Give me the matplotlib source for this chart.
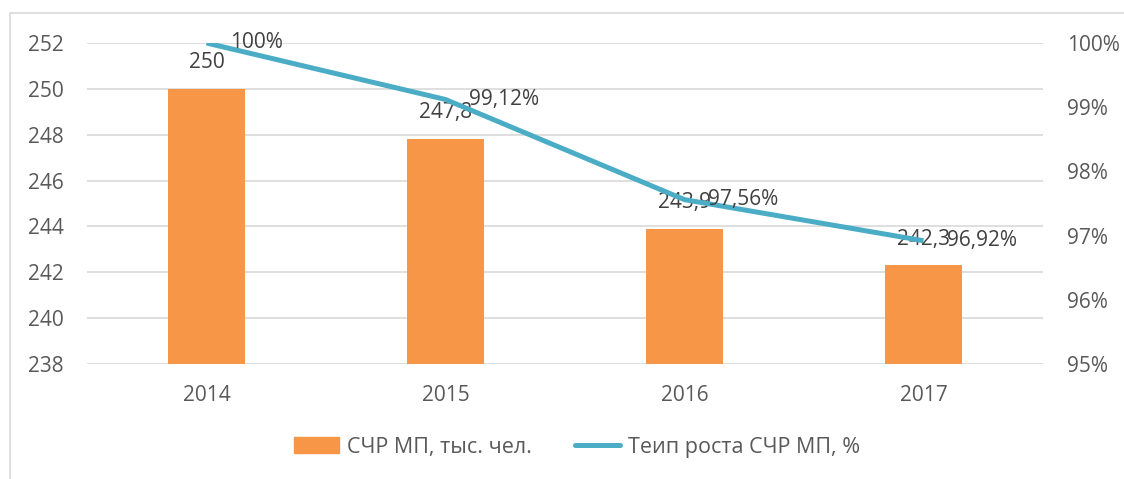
import matplotlib
matplotlib.use("Agg")
import matplotlib.pyplot as plt
from matplotlib.patches import Rectangle, Patch
from matplotlib.lines import Line2D
from matplotlib.ticker import FuncFormatter

years = ["2014", "2015", "2016", "2017"]
workers = [250.0, 247.8, 243.9, 242.3]          # СЧР МП, тыс. чел.
growth = [100.0, 99.12, 97.56, 96.92]           # Темп роста, %
bar_labels = ["250", "247,8", "243,9", "242,3"]
growth_labels = ["100%", "99,12%", "97,56%", "96,92%"]
left_ticks = [238, 240, 242, 244, 246, 248, 250, 252]
right_ticks = [95, 96, 97, 98, 99, 100]

plt.rcParams["font.family"] = ["Open Sans", "DejaVu Sans"]

BAR = "#F79646"
LINE = "#4BACC6"
GRID = "#D9D9D9"
TICK = "#595959"
LABEL = "#404040"
FS = 15

fig = plt.figure(figsize=(11.24, 4.79), dpi=100)

# outer chart frame
fig.add_artist(Rectangle((10 / 1124, -0.01), 1.02, (479 - 13) / 479 + 0.01,
                         transform=fig.transFigure, fill=False,
                         edgecolor=GRID, linewidth=1.2))

ax = fig.add_axes([87 / 1124, 115 / 479, 956 / 1124, 321 / 479])
x = list(range(len(years)))
ax.bar(x, workers, width=0.318, color=BAR, zorder=2)
ax.set_ylim(238, 252)
ax.set_xlim(-0.5, len(years) - 0.5)
ax.set_yticks(left_ticks)
ax.grid(axis="y", color=GRID, linewidth=1.2, zorder=0)
ax.set_xticks(x)
ax.set_xticklabels(years)
for s in ax.spines.values():
    s.set_visible(False)
ax.tick_params(axis="both", length=0, labelsize=FS, colors=TICK)
ax.tick_params(axis="y", pad=17)
ax.tick_params(axis="x", pad=15)

for xi, v, t in zip(x, workers, bar_labels):
    ax.annotate(t, (xi, v), xytext=(0, 19), textcoords="offset points",
                ha="center", va="center", fontsize=FS, color=LABEL, zorder=4)

ax2 = ax.twinx()
ax2.plot(x, growth, color=LINE, linewidth=3.6, solid_capstyle="butt", zorder=3)
ax2.set_ylim(95, 100)
ax2.set_yticks(right_ticks)
ax2.yaxis.set_major_formatter(FuncFormatter(lambda v, p: f"{v:.0f}%"))
for s in ax2.spines.values():
    s.set_visible(False)
ax2.tick_params(axis="y", length=0, labelsize=FS, colors=TICK, pad=17)

for xi, v, t in zip(x, growth, growth_labels):
    ax2.annotate(t, (xi, v), xytext=(17, 0), textcoords="offset points",
                 ha="left", va="center", fontsize=FS, color=LABEL, zorder=4)

handles = [Patch(color=BAR, label="СЧР МП, тыс. чел."),
           Line2D([0], [0], color=LINE, linewidth=3.6, solid_capstyle="round",
                  label="Теип роста СЧР МП, %")]
fig.legend(handles=handles, loc="center", bbox_to_anchor=(577 / 1124, 1 - 447 / 479),
           ncol=2, frameon=False, fontsize=15.5, labelcolor=TICK,
           handlelength=2.1, handletextpad=0.35, columnspacing=2.0)

fig.savefig("out.png", dpi=100)
